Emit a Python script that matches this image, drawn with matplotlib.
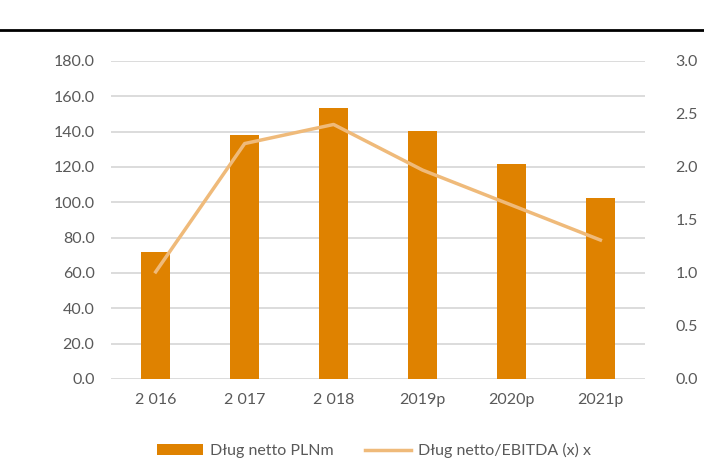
import matplotlib.pyplot as plt
import numpy as np

years = ["2 016", "2 017", "2 018", "2019p", "2020p", "2021p"]
debt = [71.8, 138.0, 153.4, 140.2, 121.7, 102.4]
ratio = [1.01, 2.22, 2.40, 1.97, 1.64, 1.31]

bar_c = "#DF8200"
line_c = "#EFBA7A"
txt_c = "#595959"
grid_c = "#D9D9D9"

plt.rcParams['font.family'] = ['Lato', 'DejaVu Sans']

fig = plt.figure(figsize=(7.04, 4.61), dpi=100)
ax = fig.add_axes([0.158, 0.178, 0.758, 0.69])
x = np.arange(len(years))
ax.bar(x, debt, width=0.32, color=bar_c, label="Dług netto PLNm", zorder=2)
ax.set_ylim(0, 180)
ax.set_yticks(np.arange(0, 181, 20))
ax.set_yticklabels([f"{v:.1f}" for v in np.arange(0, 181, 20)])
ax.set_xlim(-0.5, len(years) - 0.5)
ax.set_xticks(x)
ax.set_xticklabels(years)
ax.grid(axis="y", color=grid_c, linewidth=1.3, zorder=0)
ax.set_axisbelow(True)
for s in ax.spines.values():
    s.set_visible(False)
ax.tick_params(length=0, labelsize=11.5, colors=txt_c, pad=12)
ax.tick_params(axis="x", pad=10)

ax2 = ax.twinx()
ax2.plot(x, ratio, color=line_c, linewidth=2.5, label="Dług netto/EBITDA (x) x", zorder=3)
ax2.set_ylim(0, 3.0)
ax2.set_yticks(np.arange(0, 3.01, 0.5))
ax2.set_yticklabels([f"{v:.1f}" for v in np.arange(0, 3.01, 0.5)])
for s in ax2.spines.values():
    s.set_visible(False)
ax2.tick_params(length=0, labelsize=11.5, colors=txt_c, pad=22)

h1, l1 = ax.get_legend_handles_labels()
h2, l2 = ax2.get_legend_handles_labels()
fig.legend(h1 + h2, l1 + l2, loc="center", bbox_to_anchor=(0.531, 0.022), ncol=2,
           frameon=False, fontsize=11.5, labelcolor=txt_c, handlelength=2.9,
           columnspacing=2.0, handletextpad=0.4)

fig.add_artist(plt.Line2D([0, 1], [1 - 30 / 461, 1 - 30 / 461], color="black", linewidth=2,
                          transform=fig.transFigure))

fig.savefig("out.png", dpi=100)
